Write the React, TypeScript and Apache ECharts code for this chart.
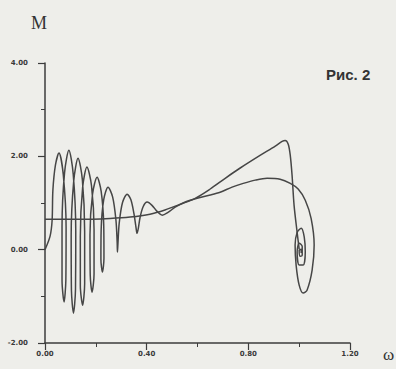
import React, { useEffect, useRef } from "react";
import * as echarts from "echarts";

// Static torque-speed characteristic M(ω)
const staticOmega = [0, 0.138, 0.256, 0.335, 0.413, 0.472, 0.531, 0.591, 0.65, 0.709, 0.768, 0.846, 0.906, 0.933, 0.945, 0.957, 0.965, 0.972, 0.98, 0.992, 1.0];
const staticM = [0.65, 0.65, 0.67, 0.7, 0.76, 0.85, 0.97, 1.1, 1.3, 1.53, 1.75, 2.02, 2.22, 2.32, 2.34, 2.26, 2.02, 1.6, 0.95, 0.37, 0.01];

// Dynamic trajectory M(ω) during start-up
const dynOmega = [
  0, 0.02, 0.028, 0.031, 0.041,
  0.055, 0.072, 0.083, 0.082, 0.075, 0.067, 0.067, 0.077,
  0.094, 0.111, 0.121, 0.12, 0.112, 0.104, 0.103, 0.113,
  0.13, 0.147, 0.156, 0.156, 0.148, 0.139, 0.139, 0.148,
  0.165, 0.183, 0.193, 0.193, 0.185, 0.178, 0.177, 0.187,
  0.205, 0.221, 0.231, 0.232, 0.226, 0.22, 0.221, 0.231,
  0.248, 0.266, 0.279, 0.284, 0.285, 0.287, 0.292, 0.305,
  0.323, 0.338, 0.35, 0.358, 0.362, 0.367, 0.374, 0.386,
  0.402, 0.421, 0.441, 0.461, 0.484, 0.512, 0.543,
  0.571, 0.61, 0.65, 0.689, 0.736, 0.78, 0.827, 0.874, 0.925, 0.965, 0.996,
  1.024, 1.047, 1.059, 1.051, 1.031, 1.016, 1.0, 0.988, 0.984, 0.992,
  1.008, 1.02, 1.024, 1.016, 1.0, 0.992, 1.0, 1.012, 1.012, 1.004, 1.0, 1.008, 1.008,
];
const dynM = [
  0, 0.29, 0.63, 1.27, 1.81,
  2.07, 1.6, 0.47, -0.66, -1.12, -0.65, 0.5, 1.65,
  2.13, 1.62, 0.39, -0.85, -1.36, -0.87, 0.3, 1.47,
  1.96, 1.5, 0.39, -0.73, -1.19, -0.76, 0.29, 1.33,
  1.77, 1.37, 0.43, -0.52, -0.91, -0.55, 0.32, 1.19,
  1.55, 1.25, 0.54, -0.18, -0.48, -0.21, 0.43, 1.07,
  1.34, 1.13, 0.64, 0.15, -0.05, 0.13, 0.57, 1.01,
  1.19, 1.07, 0.77, 0.48, 0.35, 0.45, 0.69, 0.92,
  1.02, 0.95, 0.82, 0.74, 0.8, 0.91, 1.0,
  1.06, 1.12, 1.17, 1.23, 1.34, 1.42, 1.49, 1.53, 1.51, 1.42, 1.3,
  1.06, 0.67, 0.1, -0.44, -0.87, -0.93, -0.76, -0.33, 0.1, 0.37,
  0.46, 0.27, -0.05, -0.33, -0.33, -0.05, 0.14, 0.07, -0.12, -0.14, -0.01, 0.01, -0.07,
];

const xTicks = { min: 0, max: 1.2, interval: 0.4 };
const yTicks = { min: -2, max: 4, interval: 2 };

const ink = "#3c3c3c";
const curve = "#464646";

export default function App() {
  const ref = useRef<HTMLDivElement>(null);
  useEffect(() => {
    if (!ref.current) return;
    const chart = echarts.init(ref.current, undefined, { renderer: "svg" });
    const staticData = staticOmega.map((w, i) => [w, staticM[i]]);
    const dynData = dynOmega.map((w, i) => [w, dynM[i]]);
    const labelStyle = {
      formatter: (v: number) => v.toFixed(2),
      fontSize: 7,
      fontWeight: "bold",
      color: "#3a3a3a",
      fontFamily: "DejaVu Sans",
    };
    chart.setOption({
      animation: false,
      backgroundColor: "#eeeeea",
      grid: { left: 45, right: 46, top: 63, bottom: 26 },
      xAxis: {
        type: "value",
        min: xTicks.min,
        max: xTicks.max,
        interval: xTicks.interval,
        axisLine: { show: true, onZero: false, lineStyle: { color: ink, width: 1.5 } },
        axisTick: { show: true, length: 7, lineStyle: { color: ink, width: 1.2 } },
        minorTick: { show: true, splitNumber: 2, length: 4, lineStyle: { color: ink, width: 1 } },
        splitLine: { show: false },
        axisLabel: { ...labelStyle, margin: 7 },
      },
      yAxis: {
        type: "value",
        min: yTicks.min,
        max: yTicks.max,
        interval: yTicks.interval,
        axisLine: { show: true, onZero: false, lineStyle: { color: ink, width: 1.5 } },
        axisTick: { show: true, length: 7, lineStyle: { color: ink, width: 1.2 } },
        minorTick: { show: true, splitNumber: 2, length: 4, lineStyle: { color: ink, width: 1 } },
        splitLine: { show: false },
        axisLabel: { ...labelStyle, margin: 17 },
      },
      series: [
        {
          type: "line",
          data: staticData,
          showSymbol: false,
          smooth: 0.3,
          lineStyle: { color: curve, width: 1.5 },
        },
        {
          type: "line",
          data: dynData,
          showSymbol: false,
          smooth: 0.3,
          lineStyle: { color: curve, width: 1.5 },
        },
      ],
      graphic: [
        {
          type: "text",
          left: 31,
          top: 14,
          style: { text: "M", font: "18px 'Liberation Serif'", fill: "#333" },
        },
        {
          type: "text",
          left: 326,
          top: 67,
          style: { text: "Рис. 2", font: "bold 15px 'Liberation Sans'", fill: "#333" },
        },
        {
          type: "text",
          left: 383,
          top: 346,
          style: { text: "ω", font: "17px 'Liberation Serif'", fill: "#333" },
        },
      ],
    });
    return () => chart.dispose();
  }, []);
  return <div ref={ref} style={{ width: 396, height: 369, position: "absolute", left: 0, top: 0 }} />;
}
